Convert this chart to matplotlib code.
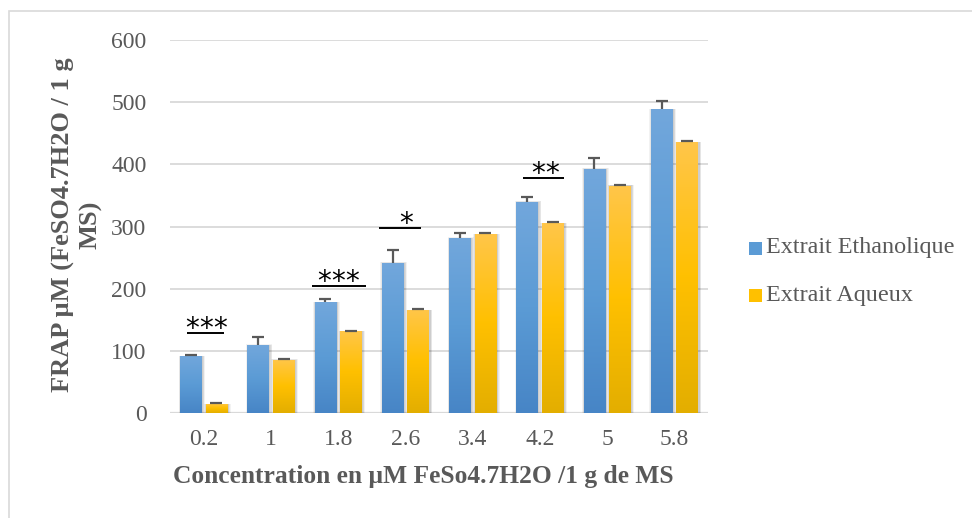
import numpy as np
import matplotlib
matplotlib.use("Agg")
import matplotlib.pyplot as plt
from matplotlib.patches import Rectangle
from matplotlib.colors import LinearSegmentedColormap

# FRAP values (µM FeSO4.7H2O / 1 g MS) per concentration
categories = ['0.2', '1', '1.8', '2.6', '3.4', '4.2', '5', '5.8']
ethanolic = [92, 110, 179, 242, 282, 340, 393, 489]
ethanolic_err = [1.5, 13, 5, 21, 8, 8, 18, 13]
aqueous = [15, 86, 132, 166, 288, 306, 366, 436]
aqueous_err = [1.5, 1, 1, 1, 1, 1, 1, 1]

series_names = ['Extrait Ethanolique', 'Extrait Aqueux']

# significance marks: category index, label, line height, line span, text shift
signif_idx = [0, 2, 3, 5]
signif_txt = ['***', '***', '*', '**']
signif_line_y = [129, 205, 298, 378]
signif_span = [(-0.25, 0.30), (-0.39, 0.41), (-0.39, 0.23), (-0.25, 0.36)]
signif_dx = [0.04, 0.0, 0.01, 0.08]

GRAY = '#595959'
GRID = '#d9d9d9'
SERIF = ['Liberation Serif', 'DejaVu Serif']

blue_cmap = LinearSegmentedColormap.from_list('b', ['#4785c6', '#5b9bd5', '#72a7dc'])
gold_cmap = LinearSegmentedColormap.from_list('y', ['#e3ae00', '#ffc000', '#ffc64a'])

fig = plt.figure(figsize=(9.72, 5.18), dpi=100)
ax = fig.add_axes([170 / 972, 1 - 413.3 / 518, 538 / 972, (413.3 - 40) / 518])

x = np.arange(len(categories))
offset, width = 0.19, 0.32

ax.set_xlim(-0.5, len(categories) - 0.5)
ax.set_ylim(0, 600)

b1 = ax.bar(x - offset, ethanolic, width, color='none', zorder=3)
b2 = ax.bar(x + offset, aqueous, width, color='none', zorder=3)

# pixel -> data conversion for the soft shadow and annotations
px_x = len(categories) / 538.0
px_y = 600 / 373.3

grad = np.linspace(0, 1, 256).reshape(-1, 1)
for bars, cmap in ((b1, blue_cmap), (b2, gold_cmap)):
    for p in bars:
        x0, y0 = p.get_x(), p.get_y()
        w, h = p.get_width(), p.get_height()
        for k in range(1, 5):
            ax.add_patch(Rectangle((x0 - k * px_x * 0.6 + px_x, y0 - k * px_y * 0.8),
                                   w + k * px_x * 1.2, h + k * px_y * 0.9,
                                   facecolor='black', alpha=0.05, lw=0, zorder=2))
        im = ax.imshow(grad, cmap=cmap, extent=[x0, x0 + w, y0, y0 + h],
                       origin='lower', aspect='auto', interpolation='bicubic', zorder=3)
        im.set_clip_path(p)

ax.set_xlim(-0.5, len(categories) - 0.5)
ax.set_ylim(0, 600)

# upward error bars with caps only on top
cap = 0.09
for xs, vals, errs in ((x - offset, ethanolic, ethanolic_err), (x + offset, aqueous, aqueous_err)):
    tops = np.array(vals) + np.array(errs)
    ax.vlines(xs, vals, tops, colors=GRAY, lw=1.6, zorder=4)
    ax.hlines(tops, xs - cap, xs + cap, colors=GRAY, lw=1.6, zorder=4)

# significance annotations: each star set a little apart
star_step = 14 * px_x
for i, t, ly, (l, r), dx in zip(signif_idx, signif_txt, signif_line_y, signif_span, signif_dx):
    ax.plot([i + l, i + r], [ly, ly], color='black', lw=1.4, zorder=5, solid_capstyle='butt')
    n = len(t)
    for k, ch in enumerate(t):
        ax.text(i + dx + (k - (n - 1) / 2) * star_step, ly - 4.0 * px_y, ch,
                ha='center', va='baseline', fontsize=20,
                family='DejaVu Sans', color='black', zorder=5)

ax.set_yticks(np.arange(0, 601, 100))
ax.set_xticks(x)
ax.set_xticklabels(categories)
ax.yaxis.grid(True, color=GRID, lw=1.3)
ax.set_axisbelow(True)
for s in ax.spines.values():
    s.set_visible(False)
ax.axhline(0, color=GRID, lw=1.6, zorder=1)
ax.tick_params(length=0, labelsize=17, labelcolor=GRAY)
ax.tick_params(axis='y', pad=17)
ax.tick_params(axis='x', pad=11)
for lab in ax.get_xticklabels() + ax.get_yticklabels():
    lab.set_family(SERIF)

fig.text(77 / 972, 1 - 225 / 518, 'FRAP µM (FeSO4.7H2O / 1 g\nMS)', rotation=90,
         ha='center', va='center', multialignment='center', fontsize=19,
         fontweight='bold', color=GRAY, family=SERIF, linespacing=1.25)
fig.text(423 / 972, 1 - 476 / 518, 'Concentration en µM FeSo4.7H2O /1 g de MS',
         ha='center', va='center', fontsize=18.4, fontweight='bold', color=GRAY, family=SERIF)

# legend
leg_colors = ['#5b9bd5', '#ffc000']
leg_y = [248, 295]
for c, name, yy in zip(leg_colors, series_names, leg_y):
    fig.patches.append(Rectangle((749 / 972, 1 - (yy + 6.5) / 518), 13 / 972, 13 / 518,
                                 transform=fig.transFigure, facecolor=c, edgecolor='none'))
    fig.text(766 / 972, 1 - yy / 518, name, ha='left', va='center', fontsize=17.4,
             color=GRAY, family=SERIF)

# outer chart frame
fig.patches.append(Rectangle((9 / 972, -0.1), 1.2, 1 - 11 / 518 + 0.1, transform=fig.transFigure,
                             facecolor='none', edgecolor=GRID, lw=1.2))

fig.savefig('out.png', dpi=100)
